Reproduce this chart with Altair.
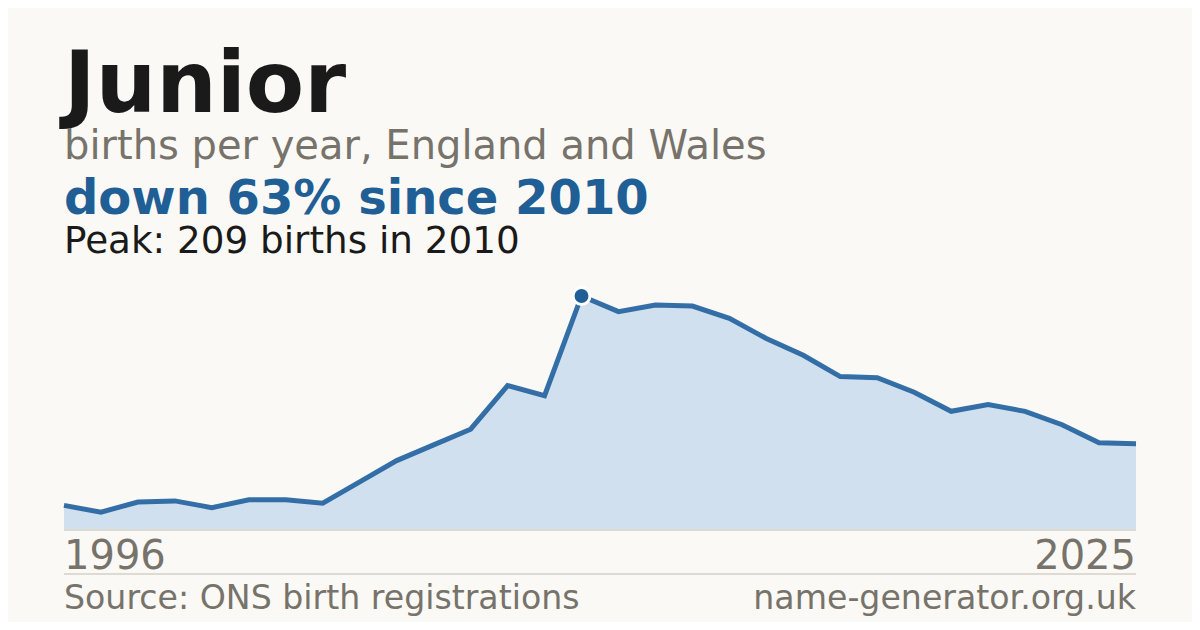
import altair as alt
import pandas as pd

years = list(range(1996, 2026))
births = [22, 16, 25, 26, 20, 27, 27, 24, 43, 62, 76, 90, 129, 120, 209,
          195, 201, 200, 189, 171, 156, 137, 136, 123, 106, 112, 106, 94, 78, 77]

title_text = "Junior"
subtitle_text = "births per year, England and Wales"
change_text = "down 63% since 2010"
peak_text = "Peak: 209 births in 2010"
source_text = "Source: ONS birth registrations"
site_text = "name-generator.org.uk"
peak_year = 2010
peak_value = 209

df = pd.DataFrame({"year": years, "births": births})
peak_df = pd.DataFrame({"year": [peak_year], "births": [peak_value]})
ends_df = pd.DataFrame({"year": [years[0], years[-1]], "label": [str(years[0]), str(years[-1])]})

FONT = "DejaVu Sans"
BLUE = "#1f5f96"
GREY = "#77736b"
DARK = "#1a1a1a"
LINEC = "#dedad2"

W, H = 1072, 234
xs = alt.X("year:Q", scale=alt.Scale(domain=[years[0], years[-1]], nice=False, zero=False), axis=None)
ys = alt.Y("births:Q", scale=alt.Scale(domain=[0, peak_value], nice=False), axis=None)

area = alt.Chart(df).mark_area(color="#d0e0ef", opacity=1).encode(x=xs, y=ys)
line = alt.Chart(df).mark_line(color="#2463a0", strokeWidth=5, opacity=0.92).encode(x=xs, y=ys)
point = alt.Chart(peak_df).mark_circle(size=285, color=BLUE, opacity=1, stroke="white",
                                       strokeWidth=3).encode(x=xs, y=ys)

base_rule = alt.Chart(df).mark_rule(color=LINEC, strokeWidth=1).encode(
    x=alt.value(0), x2=alt.value(W), y=alt.value(H))
div_rule = alt.Chart(df).mark_rule(color=LINEC, strokeWidth=1).encode(
    x=alt.value(0), x2=alt.value(W), y=alt.value(278))

def txt(text, y, size, color, weight="normal", x=0, align="left"):
    return alt.Chart(peak_df).mark_text(
        text=text, font=FONT, fontSize=size, fontWeight=weight, color=color,
        align=align, baseline="alphabetic").encode(x=alt.value(x), y=alt.value(y))

t1 = txt(title_text, -184, 85, DARK, "bold")
t2 = txt(subtitle_text, -137, 40, GREY)
t3 = txt(change_text, -82, 48, BLUE, "bold")
t4 = txt(peak_text, -43, 37.3, DARK)
t5 = txt(source_text, 313, 33.2, GREY)
t6 = txt(site_text, 313, 33.2, GREY, x=W, align="right")

y_first = alt.Chart(ends_df.iloc[[0]]).mark_text(font=FONT, fontSize=40, color=GREY, align="left",
                                                 baseline="alphabetic").encode(
    x=xs, y=alt.value(273), text="label:N")
y_last = alt.Chart(ends_df.iloc[[1]]).mark_text(font=FONT, fontSize=40, color=GREY, align="right",
                                                baseline="alphabetic").encode(
    x=xs, y=alt.value(273), text="label:N")

chart = alt.layer(area, base_rule, div_rule, line, point, t1, t2, t3, t4, t5, t6, y_first, y_last).properties(
    width=W, height=H,
    padding={"left": 56, "top": 288, "right": 56, "bottom": 92},
    autosize=alt.AutoSizeParams(type="none"),
    background="#faf9f5",
).configure_view(stroke=None)

chart.save("out.html", embed_options={"renderer": "svg", "actions": False})
